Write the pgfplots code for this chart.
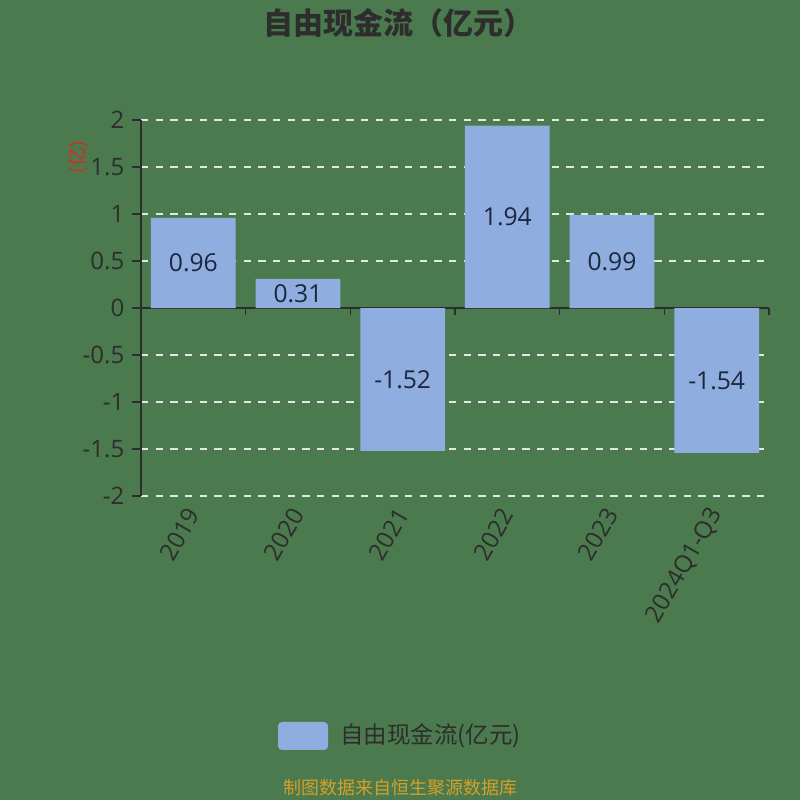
\documentclass[border=0pt]{standalone}
\usepackage{fontspec}
\setmainfont{Open Sans}
\newfontfamily\cjk{Noto Sans CJK SC}
\usepackage{pgfplots}
\usepackage{pgfplotstable}
\pgfplotsset{compat=1.18}

\definecolor{bg}{RGB}{74,122,78}
\definecolor{barblue}{RGB}{143,174,223}
\definecolor{textc}{RGB}{45,45,45}
\definecolor{labelc}{RGB}{28,38,60}
\definecolor{gridc}{RGB}{228,232,228}
\definecolor{footc}{RGB}{214,160,40}
\definecolor{namec}{RGB}{222,40,30}

\pgfplotstableread{
x y
0 0.96
1 0.31
2 -1.52
3 1.94
4 0.99
5 -1.54
}\fcf

\begin{document}
\begin{tikzpicture}
% canvas 800x800 px = 600x600 pt
\fill[bg] (0,0) rectangle (600pt,600pt);
\path[use as bounding box] (0,0) rectangle (600pt,600pt);

\node[text=textc, font=\cjk\bfseries\fontsize{22.5pt}{26pt}\selectfont] at (299pt,583pt) {自由现金流（亿元）};
\node[text=namec, rotate=90, font=\cjk\fontsize{14.5pt}{16pt}\selectfont] at (58.5pt,482pt) {(亿)};

\begin{axis}[
    at={(105.75pt,228pt)}, anchor=south west,
    scale only axis,
    width=471pt, height=282pt,
    xmin=-0.5, xmax=5.5,
    ymin=-2, ymax=2,
    ytick={-2,-1.5,...,2},
    xtick={0,...,5},
    xticklabels={2019,2020,2021,2022,2023,2024Q1-Q3},
    axis x line*=bottom, axis y line*=left,
    x axis line style={draw=none},
    y axis line style={draw=textc, line width=1.1pt, -},
    xtick style={draw=none},
    ytick style={draw=textc, line width=1.1pt},
    tick align=outside,
    major tick length=7pt,
    ymajorgrids=true,
    grid style={gridc, line width=1pt, dash pattern=on 5.5pt off 5.5pt},
    /pgf/number format/assume math mode=true,
    yticklabel style={text=textc, font=\fontsize{18pt}{20pt}\selectfont, xshift=-2pt},
    xticklabel style={text=textc, font=\fontsize{18pt}{20pt}\selectfont, rotate=60, anchor=east, yshift=-2pt},
    clip=false,
]
\draw[textc, line width=1.1pt] (axis cs:-0.5,0) -- (axis cs:5.5,0);
\pgfplotsinvokeforeach{-0.5,0.5,1.5,2.5,3.5,4.5,5.5}{
    \draw[textc, line width=1.1pt] (axis cs:#1,0) -- ++(0pt,-5pt);
}
\addplot[
    ybar, bar width=0.81, fill=barblue, draw=none,
    visualization depends on={\thisrow{y}/2 \as \half},
    nodes near coords={\pgfmathprintnumber[fixed,precision=2]{\pgfplotspointmeta}},
    every node near coord/.append style={anchor=center, shift={(axis direction cs:0,-\half)}, text=labelc, font=\fontsize{18.5pt}{20pt}\selectfont},
] table[x=x, y=y] {\fcf};
\end{axis}

\fill[barblue, rounded corners=3pt] (208.5pt,37.5pt) rectangle (246pt,58.5pt);
\node[anchor=west, text=textc, inner sep=0pt, font=\cjk\fontsize{17.6pt}{20pt}\selectfont] at (255pt,48pt) {自由现金流(亿元)};
\node[text=footc, font=\cjk\fontsize{13.5pt}{15pt}\selectfont] at (300pt,9.5pt) {制图数据来自恒生聚源数据库};
\end{tikzpicture}
\end{document}
